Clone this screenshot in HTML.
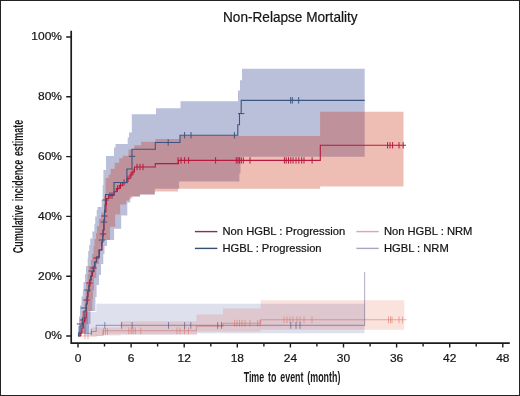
<!DOCTYPE html>
<html><head><meta charset="utf-8"><style>
html,body{margin:0;padding:0;background:#fff;}
#c{position:relative;width:520px;height:396px;overflow:hidden;background:#fff;}
#c svg{position:absolute;left:0;top:0;will-change:transform;}
#b{position:absolute;left:0;top:0;width:518px;height:394px;border:1px solid #222;}
</style></head><body><div id="c">
<svg width="520" height="396" viewBox="0 0 520 396">
<polygon points="84.0,336.0 84.0,312.0 96.3,312.0 96.3,303.8 364.6,303.8 364.6,333.2 197.0,333.2 197.0,334.6 96.3,334.6 96.3,335.5 84.0,335.5" fill="rgba(31,45,131,0.15)"/>
<polygon points="92.0,336.0 92.0,327.6 120.6,327.6 120.6,321.2 196.5,321.2 196.5,314.4 223.0,314.4 223.0,308.4 260.7,308.4 260.7,300.2 404.2,300.2 404.2,329.7 260.7,329.7 260.7,331.5 197.0,331.5 197.0,334.4 120.6,334.4 120.6,335.5 92.0,335.5" fill="rgba(220,60,30,0.15)"/>
<polygon points="78.0,336.0 78.0,330.0 78.0,326.0 79.0,326.0 79.0,322.0 79.0,316.5 80.0,316.5 80.0,311.0 80.0,305.5 81.5,305.5 81.5,300.0 81.5,296.5 82.8,296.5 82.8,293.0 82.8,289.5 83.5,289.5 83.5,286.0 83.5,282.0 85.0,282.0 85.0,278.0 85.0,274.0 86.0,274.0 86.0,270.0 86.0,266.0 87.7,266.0 87.7,262.0 87.7,258.0 88.2,258.0 88.2,254.0 88.2,251.0 89.2,251.0 89.2,248.0 89.2,245.0 90.2,245.0 90.2,242.0 90.2,238.5 92.4,238.5 92.4,235.0 92.4,231.5 94.4,231.5 94.4,228.0 94.4,224.0 95.2,224.0 95.2,220.0 95.2,216.5 96.7,216.5 96.7,213.0 96.7,210.0 97.5,210.0 97.5,207.0 101.7,207.0 101.7,200.0 102.7,200.0 102.7,185.0 103.4,185.0 103.4,170.0 106.0,170.0 106.0,156.0 114.0,156.0 114.0,147.5 115.5,147.5 115.5,144.0 127.7,144.0 127.7,137.4 129.0,137.4 129.0,132.5 131.8,132.5 131.8,114.2 156.0,114.2 156.0,108.2 180.5,108.2 180.5,101.3 238.0,101.3 238.0,90.4 240.0,90.4 240.0,80.3 242.0,80.3 242.0,68.8 364.7,68.8 364.7,156.8 240.5,156.8 240.5,173.5 239.4,173.5 239.4,181.5 179.1,181.5 179.1,188.7 154.8,188.7 154.8,194.6 140.0,194.6 140.0,196.4 130.3,196.4 130.3,202.4 127.3,202.4 127.3,215.6 121.2,215.6 121.2,228.7 114.1,228.7 114.1,240.0 107.0,240.0 107.0,242.0 107.0,246.0 104.5,246.0 104.5,250.0 104.5,254.0 103.3,254.0 103.3,258.0 103.3,264.0 101.0,264.0 101.0,270.0 101.0,275.0 99.0,275.0 99.0,280.0 99.0,285.0 96.6,285.0 96.6,290.0 96.6,297.0 95.4,297.0 95.4,304.0 95.4,311.0 90.5,311.0 90.5,318.0 90.5,324.0 89.0,324.0 89.0,330.0 89.0,333.0 82.0,333.0 82.0,336.0" fill="rgba(31,45,131,0.3)"/>
<polygon points="79.0,336.0 79.0,330.5 80.5,330.5 80.5,325.0 80.5,321.5 82.0,321.5 82.0,318.0 82.0,311.0 84.5,311.0 84.5,304.0 84.5,299.5 85.5,299.5 85.5,295.0 85.5,290.5 86.3,290.5 86.3,286.0 86.3,282.0 87.5,282.0 87.5,278.0 87.5,274.0 88.5,274.0 88.5,270.0 88.5,266.0 91.0,266.0 91.0,262.0 91.0,260.0 92.2,260.0 92.2,258.0 92.2,254.0 93.5,254.0 93.5,250.0 93.5,246.0 94.5,246.0 94.5,242.0 94.5,239.0 96.0,239.0 96.0,236.0 96.0,233.0 97.0,233.0 97.0,230.0 97.0,226.0 99.0,226.0 99.0,222.0 99.0,218.5 101.5,218.5 101.5,215.0 101.5,212.5 104.2,212.5 104.2,210.0 104.2,196.0 105.6,196.0 105.6,178.0 108.5,178.0 108.5,174.8 110.5,174.8 110.5,168.8 114.7,168.8 114.7,162.7 119.2,162.7 119.2,158.2 122.7,158.2 122.7,155.7 128.5,155.7 128.5,149.5 134.2,149.5 134.2,145.3 141.1,145.3 141.1,141.8 155.3,141.8 155.3,139.0 180.0,139.0 180.0,136.0 320.1,136.0 320.1,111.8 403.5,111.8 403.5,186.4 320.1,186.4 320.1,188.7 178.0,188.7 178.0,191.4 154.8,191.4 154.8,194.6 140.0,194.6 140.0,196.4 132.3,196.4 132.3,198.4 129.3,198.4 129.3,200.4 126.3,200.4 126.3,204.4 120.2,204.4 120.2,214.5 115.2,214.5 115.2,226.7 110.0,226.7 110.0,240.0 103.0,240.0 103.0,242.0 103.0,246.0 100.5,246.0 100.5,250.0 100.5,254.0 99.0,254.0 99.0,258.0 99.0,264.0 96.3,264.0 96.3,270.0 96.3,278.0 94.0,278.0 94.0,286.0 94.0,290.5 93.0,290.5 93.0,295.0 93.0,299.5 92.3,299.5 92.3,304.0 92.3,311.0 88.0,311.0 88.0,318.0 88.0,324.0 86.0,324.0 86.0,330.0 86.0,333.0 80.0,333.0 80.0,336.0" fill="rgba(200,40,10,0.3)"/>
<polyline points="78.0,336.0 96.3,336.0 96.3,335.2 103.0,335.2 103.0,330.8 196.4,330.8 196.4,326.2 223.0,326.2 223.0,323.3 260.7,323.3 260.7,319.8 406.7,319.8" fill="none" stroke="rgba(190,60,50,0.35)" stroke-width="1.1"/>
<path d="M85.0 332.6V339.4M88.0 332.6V339.4M103.5 328.1V334.9M105.5 328.1V334.9M107.5 328.1V334.9M128.8 327.4V334.2M131.2 327.4V334.2M133.1 327.4V334.2M135.4 327.4V334.2M140.8 327.4V334.2M177.0 327.4V334.2M180.0 327.4V334.2M184.6 327.4V334.2M188.5 327.4V334.2M234.6 319.9V326.7M237.0 319.9V326.7M239.5 319.9V326.7M242.0 319.9V326.7M245.0 319.9V326.7M250.0 319.9V326.7M257.7 319.9V326.7M260.0 319.9V326.7M284.0 316.4V323.2M287.0 316.4V323.2M290.0 316.4V323.2M293.0 316.4V323.2M297.0 316.4V323.2M300.0 316.4V323.2M304.0 316.4V323.2M312.0 316.4V323.2M388.5 316.4V323.2M390.5 316.4V323.2M392.0 316.4V323.2M399.0 316.4V323.2M402.6 316.4V323.2" stroke="rgba(225,110,90,0.55)" stroke-width="1" fill="none"/>
<polyline points="78.0,336.0 80.0,336.0 80.0,333.5 91.3,333.5 91.3,331.5 96.2,331.5 96.2,325.4 364.6,325.4 364.6,272.0" fill="none" stroke="rgba(40,40,110,0.35)" stroke-width="1.1"/>
<path d="M91.3 328.6V335.4M104.8 322.0V328.8M121.6 322.0V328.8M132.2 322.0V328.8M168.5 322.0V328.8M184.6 322.0V328.8M190.8 322.0V328.8M217.7 322.0V328.8M221.5 322.0V328.8M290.8 322.0V328.8M296.0 322.0V328.8M300.0 322.0V328.8" stroke="rgba(50,55,120,0.5)" stroke-width="1" fill="none"/>
<polyline points="79.0,336.0 80.3,336.0 80.3,333.0 81.8,333.0 81.8,328.0 83.3,328.0 83.3,322.0 84.6,322.0 84.6,318.0 86.2,318.0 86.2,304.0 87.2,304.0 87.2,297.0 88.0,297.0 88.0,291.5 89.0,291.5 89.0,286.0 90.0,286.0 90.0,280.0 91.2,280.0 91.2,276.0 92.5,276.0 92.5,271.8 93.8,271.8 93.8,267.0 95.0,267.0 95.0,262.0 96.6,262.0 96.6,257.0 99.2,257.0 99.2,250.0 101.8,250.0 101.8,242.0 102.8,242.0 102.8,236.0 103.2,236.0 103.2,230.0 104.0,230.0 104.0,220.0 104.6,220.0 104.6,212.0 105.9,212.0 105.9,205.0 106.5,205.0 106.5,198.5 108.7,198.5 108.7,195.5 114.0,195.5 114.0,191.7 116.3,191.7 116.3,188.6 119.3,188.6 119.3,185.6 122.4,185.6 122.4,182.6 126.9,182.6 126.9,178.8 130.0,178.8 130.0,175.0 132.0,175.0 132.0,172.0 134.5,172.0 134.5,167.0 155.3,167.0 155.3,163.6 178.5,163.6 178.5,160.4 320.3,160.4 320.3,145.3 406.0,145.3" fill="none" stroke="#b8193c" stroke-width="1.1"/>
<path d="M137.0 163.8V170.2M140.0 163.8V170.2M143.0 163.8V170.2M178.0 157.2V163.6M181.0 157.2V163.6M184.6 157.2V163.6M188.6 157.2V163.6M215.6 157.2V163.6M236.3 157.2V163.6M238.0 157.2V163.6M239.6 157.2V163.6M241.3 157.2V163.6M243.3 157.2V163.6M250.0 157.2V163.6M284.4 157.2V163.6M286.2 157.2V163.6M288.5 157.2V163.6M290.8 157.2V163.6M293.1 157.2V163.6M296.0 157.2V163.6M298.8 157.2V163.6M301.7 157.2V163.6M304.0 157.2V163.6M312.1 157.2V163.6M387.6 142.1V148.5M390.0 142.1V148.5M392.6 142.1V148.5M399.0 142.1V148.5M403.2 142.1V148.5M110.0 192.3V198.7M112.0 192.3V198.7M117.5 185.4V191.8M120.5 182.4V188.8M124.0 179.4V185.8M128.0 175.6V182.0M131.0 171.8V178.2M133.0 168.8V175.2M101.1 216.0H107.5M99.8 234.0H106.2M93.3 258.0H99.7M90.3 268.0H96.7M86.3 283.0H92.7M83.3 300.0H89.7M79.8 320.0H86.2" stroke="#b8193c" stroke-width="1" fill="none"/>
<polyline points="78.0,336.0 78.5,336.0 78.5,333.0 80.0,333.0 80.0,326.0 82.3,326.0 82.3,318.0 84.0,318.0 84.0,311.0 86.2,311.0 86.2,304.0 87.0,304.0 87.0,297.0 87.7,297.0 87.7,291.5 88.8,291.5 88.8,285.0 89.5,285.0 89.5,280.0 90.6,280.0 90.6,276.0 91.7,276.0 91.7,271.8 93.0,271.8 93.0,267.0 94.6,267.0 94.6,262.0 96.4,262.0 96.4,257.0 99.0,257.0 99.0,250.0 101.8,250.0 101.8,242.0 102.6,242.0 102.6,236.0 103.0,236.0 103.0,230.0 103.8,230.0 103.8,220.0 104.5,220.0 104.5,210.0 105.0,210.0 105.0,205.0 105.5,205.0 105.5,194.5 114.0,194.5 114.0,182.5 126.9,182.5 126.9,169.0 132.0,169.0 132.0,149.2 155.3,149.2 155.3,142.5 180.0,142.5 180.0,135.3 237.8,135.3 237.8,124.8 239.5,124.8 239.5,113.5 241.2,113.5 241.2,100.4 364.7,100.4" fill="none" stroke="#3a5580" stroke-width="1.1"/>
<path d="M128.8 156.3H135.2M168.2 139.3V145.7M184.6 132.1V138.5M191.0 132.1V138.5M234.4 132.1V138.5M238.0 113.6H244.4M290.7 97.2V103.6M292.3 97.2V103.6M298.7 97.2V103.6M98.6 240.0H105.0M88.5 271.0H94.9M84.3 290.0H90.7M80.8 308.0H87.2M76.8 324.0H83.2M102.3 200.0H108.7M100.8 222.0H107.2" stroke="#3a5580" stroke-width="1" fill="none"/>
<path d="M71.2 30.8V343.1H509.8" fill="none" stroke="#1c1c1c" stroke-width="1.7"/>
<path d="M66.2 336.0H71.2M66.2 276.2H71.2M66.2 216.4H71.2M66.2 156.6H71.2M66.2 96.8H71.2M66.2 37.0H71.2M78.0 343.2V347.6M104.5 343.2V346.6M131.1 343.2V347.6M157.6 343.2V346.6M184.2 343.2V347.6M210.8 343.2V346.6M237.3 343.2V347.6M263.9 343.2V346.6M290.4 343.2V347.6M316.9 343.2V346.6M343.5 343.2V347.6M370.1 343.2V346.6M396.6 343.2V347.6M423.1 343.2V346.6M449.7 343.2V347.6M476.2 343.2V346.6M502.8 343.2V347.6" stroke="#1c1c1c" stroke-width="1.4" fill="none"/>
<text transform="translate(62 339.3) scale(1 0.92)" text-anchor="end" font-size="12" font-family="Liberation Sans, sans-serif" fill="#141414" stroke="#141414" stroke-width="0.22">0%</text>
<text transform="translate(62 279.5) scale(1 0.92)" text-anchor="end" font-size="12" font-family="Liberation Sans, sans-serif" fill="#141414" stroke="#141414" stroke-width="0.22">20%</text>
<text transform="translate(62 219.7) scale(1 0.92)" text-anchor="end" font-size="12" font-family="Liberation Sans, sans-serif" fill="#141414" stroke="#141414" stroke-width="0.22">40%</text>
<text transform="translate(62 159.9) scale(1 0.92)" text-anchor="end" font-size="12" font-family="Liberation Sans, sans-serif" fill="#141414" stroke="#141414" stroke-width="0.22">60%</text>
<text transform="translate(62 100.1) scale(1 0.92)" text-anchor="end" font-size="12" font-family="Liberation Sans, sans-serif" fill="#141414" stroke="#141414" stroke-width="0.22">80%</text>
<text transform="translate(62 40.3) scale(1 0.92)" text-anchor="end" font-size="12" font-family="Liberation Sans, sans-serif" fill="#141414" stroke="#141414" stroke-width="0.22">100%</text>
<text transform="translate(78.0 362.3) scale(1 0.92)" text-anchor="middle" font-size="12" font-family="Liberation Sans, sans-serif" fill="#141414" stroke="#141414" stroke-width="0.22">0</text>
<text transform="translate(131.1 362.3) scale(1 0.92)" text-anchor="middle" font-size="12" font-family="Liberation Sans, sans-serif" fill="#141414" stroke="#141414" stroke-width="0.22">6</text>
<text transform="translate(184.2 362.3) scale(1 0.92)" text-anchor="middle" font-size="12" font-family="Liberation Sans, sans-serif" fill="#141414" stroke="#141414" stroke-width="0.22">12</text>
<text transform="translate(237.3 362.3) scale(1 0.92)" text-anchor="middle" font-size="12" font-family="Liberation Sans, sans-serif" fill="#141414" stroke="#141414" stroke-width="0.22">18</text>
<text transform="translate(290.4 362.3) scale(1 0.92)" text-anchor="middle" font-size="12" font-family="Liberation Sans, sans-serif" fill="#141414" stroke="#141414" stroke-width="0.22">24</text>
<text transform="translate(343.5 362.3) scale(1 0.92)" text-anchor="middle" font-size="12" font-family="Liberation Sans, sans-serif" fill="#141414" stroke="#141414" stroke-width="0.22">30</text>
<text transform="translate(396.6 362.3) scale(1 0.92)" text-anchor="middle" font-size="12" font-family="Liberation Sans, sans-serif" fill="#141414" stroke="#141414" stroke-width="0.22">36</text>
<text transform="translate(449.7 362.3) scale(1 0.92)" text-anchor="middle" font-size="12" font-family="Liberation Sans, sans-serif" fill="#141414" stroke="#141414" stroke-width="0.22">42</text>
<text transform="translate(502.8 362.3) scale(1 0.92)" text-anchor="middle" font-size="12" font-family="Liberation Sans, sans-serif" fill="#141414" stroke="#141414" stroke-width="0.22">48</text>
<text transform="translate(223.0 21.7) scale(0.952 1)" font-size="14.3" font-family="Liberation Sans, sans-serif" fill="#141414" stroke="#141414" stroke-width="0.22">Non-Relapse Mortality</text>
<text transform="translate(292 382.1) scale(0.643 1)" text-anchor="middle" font-size="13.8" font-weight="bold" word-spacing="2.2" font-family="Liberation Sans, sans-serif" fill="#1a1a1a">Time to event (month)</text>
<text transform="translate(23.1 186.5) rotate(-90) scale(0.589 1)" text-anchor="middle" font-size="15.2" font-weight="bold" word-spacing="2.2" font-family="Liberation Sans, sans-serif" fill="#1a1a1a">Cumulative incidence estimate</text>
<path d="M194.9 231.6H217.4" stroke="#8e2f4a" stroke-width="1.4"/>
<text x="222.5" y="234.8" font-size="11.2" font-family="Liberation Sans, sans-serif" fill="#141414" stroke="#141414" stroke-width="0.22">Non HGBL : Progression</text>
<path d="M194.9 248.4H217.4" stroke="#34506e" stroke-width="1.4"/>
<text x="222.5" y="251.6" font-size="11.2" font-family="Liberation Sans, sans-serif" fill="#141414" stroke="#141414" stroke-width="0.22">HGBL : Progression</text>
<path d="M356.4 231.6H378.7" stroke="#d9a9a6" stroke-width="1.4"/>
<text x="383.9" y="234.8" font-size="11.2" font-family="Liberation Sans, sans-serif" fill="#141414" stroke="#141414" stroke-width="0.22">Non HGBL : NRM</text>
<path d="M356.4 248.4H378.7" stroke="#a6a6c4" stroke-width="1.4"/>
<text x="383.9" y="251.6" font-size="11.2" font-family="Liberation Sans, sans-serif" fill="#141414" stroke="#141414" stroke-width="0.22">HGBL : NRM</text>
</svg><div id="b"></div></div></body></html>
